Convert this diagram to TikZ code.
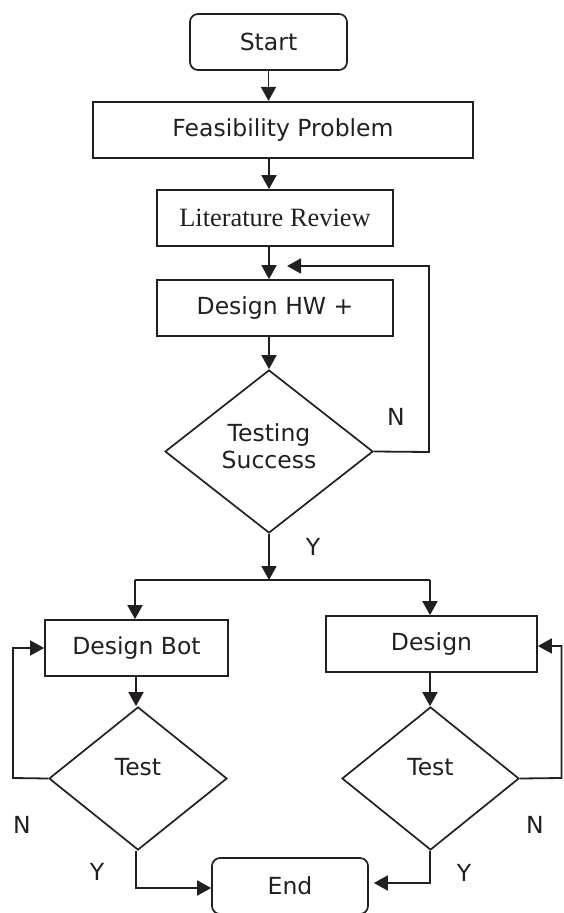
\documentclass[tikz,border=0pt]{standalone}
\usepackage{fontspec}
\setmainfont{DejaVu Sans}
\newfontfamily\serfont{Liberation Serif}
\usetikzlibrary{shapes.geometric,arrows.meta}
\definecolor{ink}{HTML}{231F20}
\tikzset{
  base/.style={draw=ink,text=ink,line width=0.85pt,inner sep=0pt,font=\fontsize{11.75}{13.5}\selectfont,align=center},
  procbox/.style={base,rectangle,minimum height=28pt},
  termbox/.style={base,rectangle,rounded corners=4pt,minimum height=28pt},
  decbox/.style={base,diamond},
  conn/.style={draw=ink,line width=0.9pt},
  arr/.style={conn,-{Triangle[length=7pt,width=7.5pt]}},
  lbl/.style={text=ink,font=\fontsize{11.75}{13.5}\selectfont,inner sep=0pt}
}
\begin{document}
\begin{tikzpicture}[x=0.5pt,y=-0.5pt]
\useasboundingbox (0,0) rectangle (563,913);
% nodes
\node[termbox,minimum width=78.5pt] (start) at (268.5,42) {Start};
\node[procbox,minimum width=190pt,line width=1.1pt] (feas) at (283,130) {Feasibility Problem};
\node[procbox,minimum width=118pt,font=\serfont\fontsize{13.2}{15}\selectfont] (lit) at (275,218) {Literature Review};
\node[procbox,minimum width=118pt] (hw) at (275,308) {Design HW +};
\node[decbox,minimum width=104pt,minimum height=81.5pt,label={[lbl,align=center,yshift=2.5pt]center:Testing\\Success}] (ts) at (269,451.5) {};
\node[procbox,minimum width=91.5pt] (bot) at (136.5,648) {Design Bot};
\node[procbox,minimum width=105.5pt] (des) at (431.5,644) {Design};
\node[decbox,minimum width=89pt,minimum height=71.5pt,label={[lbl,yshift=5.5pt]center:Test}] (t1) at (138,778.5) {};
\node[decbox,minimum width=88.5pt,minimum height=71.5pt,label={[lbl,yshift=5.5pt]center:Test}] (t2) at (430.5,778.5) {};
\node[termbox,minimum width=78pt] (end) at (290,886) {End};
% helper coordinates
\coordinate (loopin) at (287,266);
\coordinate (loopr) at (429,452);
\coordinate (split) at (269,580);
\coordinate (splitl) at (135,580);
\coordinate (splitr) at (430,580);
\coordinate (lb) at (13,778);
\coordinate (rb) at (561.5,778);
% connectors
\draw[arr] (start.south) -- (start.south |- feas.north);
\draw[arr] (269,0 |- feas.south) -- (269,0 |- lit.north);
\draw[arr] (269,0 |- lit.south) -- (269,0 |- hw.north);
\draw[arr] (269,0 |- hw.south) -- (ts.north);
\draw[arr] (ts.east) -- (loopr) |- (loopin);
\draw[arr] (ts.south) -- (split);
\draw[conn] (splitl) -- (splitr);
\draw[arr] (splitl) -- (splitl |- bot.north);
\draw[arr] (splitr) -- (splitr |- des.north);
\draw[arr] (136,0 |- bot.south) -- (136,0 |- t1.north);
\draw[arr] (t1.west) -- (lb) |- (bot.west);
\draw[arr] (136,0 |- t1.south) |- (end.west |- 0,888);
\draw[arr] (430,0 |- des.south) -- (430,0 |- t2.north);
\draw[arr] (t2.east) -- (rb) |- (des.east |- 0,646);
\draw[arr,shorten >=2.5pt] (430,0 |- t2.south) |- (end.east |- 0,883);
% labels
\node[lbl] (n1) at (396,417) {N};
\node[lbl] (y1) at (313,547) {Y};
\node[lbl] (n2) at (22,825) {N};
\node[lbl] (y2) at (97,872) {Y};
\node[lbl] (n3) at (535,825) {N};
\node[lbl] (y3) at (464,873) {Y};
\end{tikzpicture}
\end{document}
